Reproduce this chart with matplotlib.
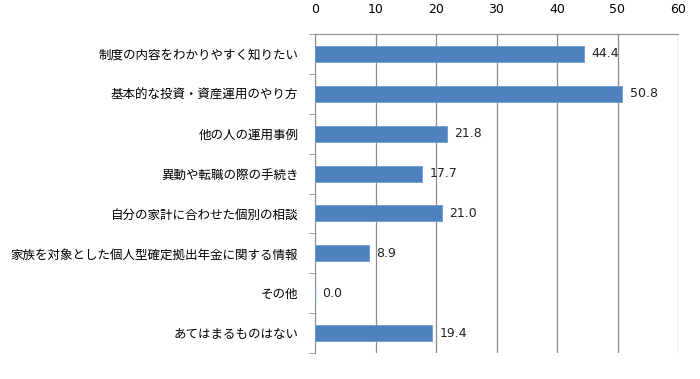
import numpy as np
import matplotlib.pyplot as plt

# --- data ---
categories = [
    '制度の内容をわかりやすく知りたい',
    '基本的な投資・資産運用のやり方',
    '他の人の運用事例',
    '異動や転職の際の手続き',
    '自分の家計に合わせた個別の相談',
    '家族を対象とした個人型確定拠出年金に関する情報',
    'その他',
    'あてはまるものはない',
]
values = [44.4, 50.8, 21.8, 17.7, 21.0, 8.9, 0.0, 19.4]
x_ticks = [0, 10, 20, 30, 40, 50, 60]

plt.rcParams['font.family'] = ['Noto Sans CJK JP', 'DejaVu Sans']

fig = plt.figure(figsize=(7.0, 3.79), dpi=100)
ax = fig.add_axes([315 / 700, 1 - 353 / 379, 363 / 700, 319 / 379])

y = np.arange(len(categories))
ax.barh(y, values, height=0.4, color='#4F81BD', edgecolor='#6F9BD1',
        linewidth=0.6, zorder=3)

for yi, v in zip(y, values):
    ax.text(v + 1.2, yi, f'{v:.1f}', va='center', ha='left', fontsize=9,
            family='DejaVu Sans', color='#222222', zorder=4)

ax.set_xlim(0, 60)
ax.set_ylim(len(categories) - 0.5, -0.5)
ax.set_xticks(x_ticks)
ax.set_xticklabels([str(t) for t in x_ticks], family='DejaVu Sans', fontsize=9)
ax.xaxis.tick_top()
ax.tick_params(axis='x', length=0, pad=13)
ax.grid(axis='x', color='#8c8c8c', linewidth=0.9, zorder=0)

ax.set_yticks(y)
ax.set_yticklabels(categories, fontsize=9)
ax.set_yticks(np.arange(-0.5, len(categories), 1.0), minor=True)
ax.tick_params(axis='y', which='major', length=0, pad=12)
ax.tick_params(axis='y', which='minor', length=4, color='#8c8c8c', direction='out')

for side in ['right', 'bottom']:
    ax.spines[side].set_visible(False)
ax.spines['left'].set_color('#8c8c8c')
ax.spines['top'].set_color('#8c8c8c')

fig.savefig('out.png', dpi=100)
